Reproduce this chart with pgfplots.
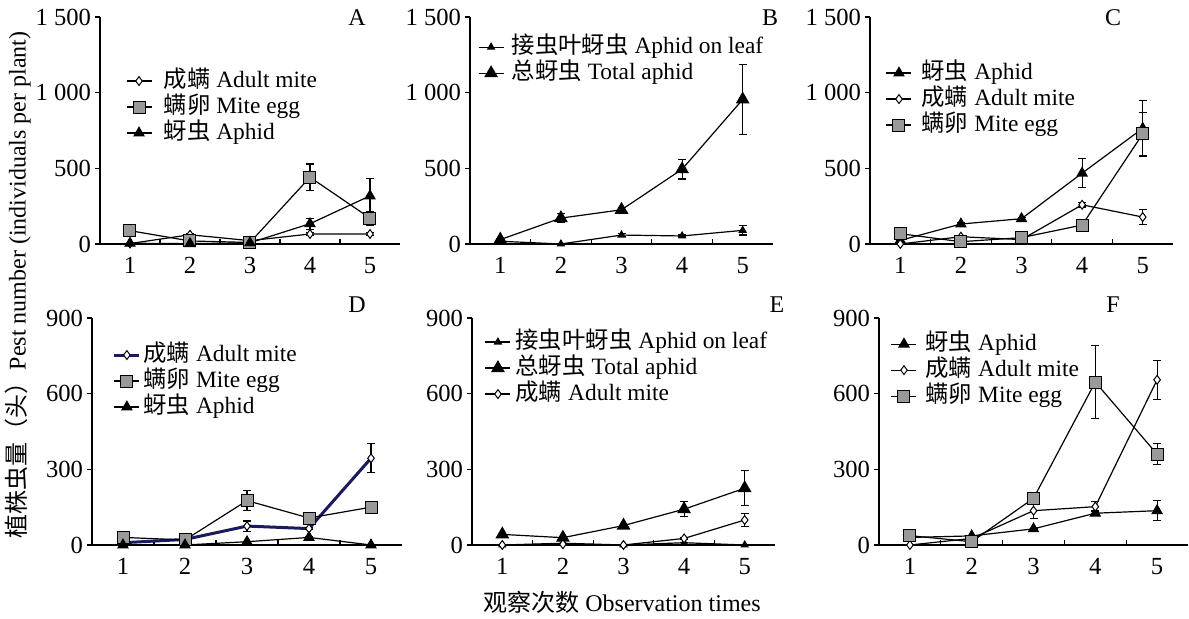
\documentclass[border=0pt]{standalone}
\usepackage{fontspec}
\setmainfont{Liberation Serif}
\newfontfamily\cjk{Noto Sans CJK SC}
\usepackage{pgfplots}
\pgfplotsset{compat=1.18}
\definecolor{eggfill}{HTML}{999999}
\definecolor{navy}{HTML}{1A1A5E}
\pgfplotsset{
  panel/.style={
    scale only axis, clip=false,
    axis x line*=bottom, axis y line*=left,
    xmin=0.5, xmax=5.5, ymin=0,
    xtick={1,2,3,4,5}, xticklabels={1,2,3,4,5},
    minor xtick={1.5,2.5,3.5,4.5},
    tick align=inside, major tick length=2.5pt, minor tick length=2.5pt,
    every major x tick/.append style={draw=none},
    every major y tick/.append style={xshift=-2.5pt},
    every tick/.append style={black, line width=0.6pt},
    axis line style={line width=0.6pt},
    tick label style={font=\fontsize{12.3}{14}\selectfont},
    xticklabel style={yshift=-3pt},
    yticklabel style={xshift=-1pt},
    legend cell align=left,
    legend style={draw=none, fill=none, font=\fontsize{11.7}{13}\selectfont,
      anchor=north west, row sep=0pt, inner sep=0pt,
      nodes={inner sep=1.25pt, text height=8.25pt, text depth=2.25pt}},
    legend image code/.code={\draw[mark repeat=2,mark phase=2] plot coordinates {(0cm,0cm) (0.22cm,0cm) (0.44cm,0cm)};},
    every axis plot/.append style={line width=0.6pt, black},
    error bars/y dir=both, error bars/y explicit,
    error bars/error bar style={line width=0.6pt, black},
    error bars/error mark options={line width=0.6pt, mark size=2pt, rotate=90},
  },
  top/.style={panel, height=113.5pt, ymax=1500, ytick={0,500,1000,1500}, yticklabels={0,500,1 000,1 500}},
  bot/.style={panel, height=113.5pt, ymax=900, ytick={0,300,600,900}, yticklabels={0,300,600,900}},
  mite/.style={mark=diamond*, mark size=2.2pt, mark options={fill=white, draw=black, solid, line width=0.5pt}},
  egg/.style={mark=square*, mark size=3pt, mark options={fill=eggfill, draw=black, solid, line width=0.5pt}},
  aphid/.style={mark=triangle*, mark size=2.8pt, mark options={fill=black, draw=black, solid}},
  leafaphid/.style={mark=triangle*, mark size=1.9pt, mark options={fill=black, draw=black, solid}},
  total/.style={mark=triangle*, mark size=3.4pt, mark options={fill=black, draw=black, solid}},
}
\begin{document}
\begin{tikzpicture}
\useasboundingbox (0,0) rectangle (594.5pt,309.5pt);
% ---------- A ----------
\begin{axis}[top, at={(50pt,187.5pt)}, anchor=south west, width=150pt,
  legend style={at={(0.085,0.777)}, column sep=4.5pt}]
\addplot[mite] coordinates {(1,3) +- (0,0) (2,61) +- (0,5) (3,22) +- (0,5) (4,66) +- (0,12) (5,66) +- (0,10)};
\addlegendentry{{\cjk 成螨} Adult mite}
\addplot[egg] coordinates {(1,88) +- (0,8) (2,20) +- (0,5) (3,10) +- (0,4) (4,441) +- (0,88) (5,171) +- (0,45)};
\addlegendentry{{\cjk 螨卵} Mite egg}
\addplot[aphid] coordinates {(1,5) +- (0,0) (2,2) +- (0,0) (3,8) +- (0,4) (4,134) +- (0,37) (5,318) +- (0,115)};
\addlegendentry{{\cjk 蚜虫} Aphid}
\end{axis}
% ---------- B ----------
\begin{axis}[top, at={(235pt,187.5pt)}, anchor=south west, width=151.5pt,
  legend style={at={(0.025,0.926)}, column sep=2.5pt}]
\addplot[leafaphid] coordinates {(1,18) +- (0,0) (2,0) +- (0,0) (3,59) +- (0,8) (4,53) +- (0,6) (5,90) +- (0,30)};
\addlegendentry{{\cjk 接虫叶蚜虫} Aphid on leaf}
\addplot[total] coordinates {(1,29) +- (0,5) (2,171) +- (0,30) (3,226) +- (0,15) (4,494) +- (0,65) (5,955) +- (0,230)};
\addlegendentry{{\cjk 总蚜虫} Total aphid}
\end{axis}
% ---------- C ----------
\begin{axis}[top, at={(435pt,187.5pt)}, anchor=south west, width=151.5pt,
  legend style={at={(0.051,0.812)}, column sep=3.5pt}]
\addplot[aphid] coordinates {(1,24) +- (0,0) (2,132) +- (0,8) (3,167) +- (0,8) (4,468) +- (0,95) (5,764) +- (0,183)};
\addlegendentry{{\cjk 蚜虫} Aphid}
\addplot[mite] coordinates {(1,0) +- (0,0) (2,48) +- (0,5) (3,29) +- (0,5) (4,259) +- (0,15) (5,178) +- (0,50)};
\addlegendentry{{\cjk 成螨} Adult mite}
\addplot[egg] coordinates {(1,68) +- (0,5) (2,15) +- (0,0) (3,42) +- (0,5) (4,125) +- (0,8) (5,727) +- (0,142)};
\addlegendentry{{\cjk 螨卵} Mite egg}
\end{axis}
% ---------- D ----------
\begin{axis}[bot, at={(46pt,37pt)}, anchor=south west, width=155pt,
  legend style={at={(0.066,0.896)}, column sep=0pt}]
\addplot[mite, navy, line width=1.5pt] coordinates {(1,9) +- (0,0) (2,22) +- (0,0) (3,75) +- (0,20) (4,65) +- (0,5) (5,344) +- (0,57)};
\addlegendentry{{\cjk 成螨} Adult mite}
\addplot[egg] coordinates {(1,30) +- (0,0) (2,20) +- (0,0) (3,176) +- (0,40) (4,107) +- (0,8) (5,150) +- (0,10)};
\addlegendentry{{\cjk 螨卵} Mite egg}
\addplot[aphid] coordinates {(1,0) +- (0,0) (2,0) +- (0,0) (3,13) +- (0,0) (4,30) +- (0,5) (5,0) +- (0,0)};
\addlegendentry{{\cjk 蚜虫} Aphid}
\end{axis}
% ---------- E ----------
\begin{axis}[bot, at={(236pt,37pt)}, anchor=south west, width=151.5pt,
  legend style={at={(0.041,0.953)}, column sep=1pt}]
\addplot[leafaphid] coordinates {(1,0) +- (0,0) (2,7) +- (0,0) (3,0) +- (0,0) (4,9) +- (0,0) (5,0) +- (0,0)};
\addlegendentry{{\cjk 接虫叶蚜虫} Aphid on leaf}
\addplot[total] coordinates {(1,42) +- (0,0) (2,29) +- (0,0) (3,77) +- (0,5) (4,142) +- (0,30) (5,225) +- (0,70)};
\addlegendentry{{\cjk 总蚜虫} Total aphid}
\addplot[mite] coordinates {(1,0) +- (0,0) (2,3) +- (0,0) (3,0) +- (0,0) (4,26) +- (0,5) (5,99) +- (0,25)};
\addlegendentry{{\cjk 成螨} Adult mite}
\end{axis}
% ---------- F ----------
\begin{axis}[bot, at={(439.5pt,37pt)}, anchor=south west, width=154.5pt,
  legend style={at={(0.037,0.944)}, column sep=3pt}]
\addplot[aphid] coordinates {(1,30) +- (0,0) (2,36) +- (0,0) (3,64) +- (0,0) (4,126) +- (0,10) (5,136) +- (0,40)};
\addlegendentry{{\cjk 蚜虫} Aphid}
\addplot[mite] coordinates {(1,0) +- (0,0) (2,26) +- (0,0) (3,136) +- (0,30) (4,152) +- (0,20) (5,655) +- (0,78)};
\addlegendentry{{\cjk 成螨} Adult mite}
\addplot[egg] coordinates {(1,37) +- (0,0) (2,13) +- (0,0) (3,185) +- (0,15) (4,646) +- (0,145) (5,360) +- (0,42)};
\addlegendentry{{\cjk 螨卵} Mite egg}
\end{axis}
% ---------- letters and labels ----------
\begin{scope}[every node/.style={font=\fontsize{12}{14}\selectfont}]
\node at (178.5pt,300.5pt) {A};
\node at (385pt,300.5pt) {B};
\node at (556.5pt,300.5pt) {C};
\node at (178.5pt,157pt) {D};
\node at (388.5pt,157pt) {E};
\node at (556.5pt,157pt) {F};
\end{scope}
\node[rotate=90, font=\fontsize{12}{14}\selectfont] at (9pt,167pt) {{\cjk 植株虫量（头）}Pest number (individuals per plant)};
\node[font=\fontsize{12}{14}\selectfont] at (311pt,8.5pt) {{\cjk 观察次数} Observation times};
\end{tikzpicture}
\end{document}
